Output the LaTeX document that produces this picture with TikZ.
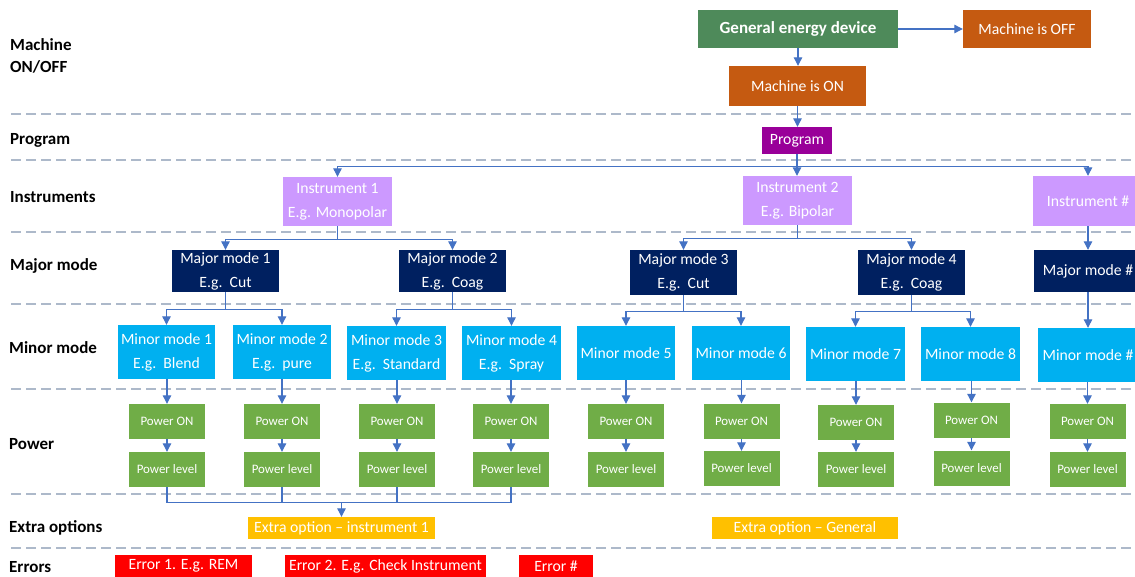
\documentclass[tikz,border=0pt]{standalone}
\usepackage{fontspec}
\setmainfont{Carlito}
\usetikzlibrary{arrows.meta}

\definecolor{sepline}{HTML}{ADB9CA}
\definecolor{conn}{HTML}{4472C4}
\definecolor{devgreen}{HTML}{4E8A5A}
\definecolor{machorange}{HTML}{C55A11}
\definecolor{progpurple}{HTML}{990099}
\definecolor{instlilac}{HTML}{CC99FF}
\definecolor{majornavy}{HTML}{002060}
\definecolor{minorblue}{HTML}{00B0F0}
\definecolor{powergreen}{HTML}{70AD47}
\definecolor{extraamber}{HTML}{FFC000}
\definecolor{errred}{HTML}{FF0000}

\begin{document}
\begin{tikzpicture}[x=1pt,y=-1pt,
  box/.style={rectangle, fill=#1, text=white, inner sep=0pt, align=center,
              font=\fontsize{15.7}{24}\selectfont},
  pwr/.style={box=powergreen, minimum width=76pt, minimum height=35pt,
              font=\fontsize{12.9}{16}\selectfont},
  sz/.style 2 args={minimum width=#1pt, minimum height=#2pt},
  rowlabel/.style={anchor=west, inner sep=0pt, align=left, text=black,
              font=\fontsize{17}{22}\selectfont\bfseries},
  sep/.style={draw=sepline, line width=1.6pt, dash pattern=on 10pt off 5pt},
  wire/.style={draw=conn, line width=1.1pt},
  arr/.style={wire, -{Triangle[length=8.5pt,width=8.5pt]}}]

\fill[white] (0,0) rectangle (1135,576);
\useasboundingbox (0,0) rectangle (1135,576);
\clip (0,0) rectangle (1135,576);

% lane separators
\foreach \yy in {114,160,232,304,389,494,548}
  \draw[sep] (11,\yy) -- (1135,\yy);

% lane titles
\node[rowlabel] (lMachine) at (10,56)  {Machine\\ON/OFF};
\node[rowlabel] (lProgram) at (10,140) {Program};
\node[rowlabel] (lInstr)   at (10,197) {Instruments};
\node[rowlabel] (lMajor)   at (10,266) {Major mode};
\node[rowlabel] (lMinor)   at (9,348)  {Minor mode};
\node[rowlabel] (lPower)   at (9,444)  {Power};
\node[rowlabel] (lExtra)   at (9,528)  {Extra options};
\node[rowlabel] (lErrors)  at (9,567)  {Errors};

% device and program
\node[box=devgreen, sz={200}{38}, font=\fontsize{17}{22}\selectfont\bfseries] (ged) at (798,29) {General energy device};
\node[box=machorange, sz={128}{38}] (off) at (1027,29) {Machine is OFF};
\node[box=machorange, sz={137}{40}] (on) at (797.5,86) {Machine is ON};
\node[box=progpurple, sz={70}{27}] (prog) at (797,140.5) {Program};

% instruments
\node[box=instlilac, sz={109}{49}] (inst1) at (337.5,201.5) {Instrument 1\\E.g. Monopolar};
\node[box=instlilac, sz={109}{49}] (inst2) at (797.5,200.5) {Instrument 2\\E.g. Bipolar};
\node[box=instlilac, sz={110}{50}] (instN) at (1088,201) {Instrument \#};

% major modes
\node[box=majornavy, sz={107}{42}] (mm1) at (225.5,271) {Major mode 1\\E.g.\ \ Cut};
\node[box=majornavy, sz={107}{42}] (mm2) at (452.5,271) {Major mode 2\\E.g.\ \ Coag};
\node[box=majornavy, sz={107}{45}] (mm3) at (683.5,272.5) {Major mode 3\\E.g.\ \ Cut};
\node[box=majornavy, sz={107}{45}] (mm4) at (911.5,272.5) {Major mode 4\\E.g.\ \ Coag};
\node[box=majornavy, sz={108}{42}] (mmN) at (1088,271) {Major mode \#};

% minor modes
\node[box=minorblue, sz={97}{54}] (mi1) at (166.5,352) {Minor mode 1\\E.g.\ \ Blend};
\node[box=minorblue, sz={98}{54}] (mi2) at (282,352) {Minor mode 2\\E.g.\ \ pure};
\node[box=minorblue, sz={99}{54}] (mi3) at (396.5,353) {Minor mode 3\\E.g.\ \ Standard};
\node[box=minorblue, sz={99}{54}] (mi4) at (511.5,353) {Minor mode 4\\E.g.\ \ Spray};
\node[box=minorblue, sz={98}{54}] (mi5) at (626,353) {Minor mode 5};
\node[box=minorblue, sz={98}{54}] (mi6) at (741,353) {Minor mode 6};
\node[box=minorblue, sz={99}{54}] (mi7) at (855.5,354) {Minor mode 7};
\node[box=minorblue, sz={99}{54}] (mi8) at (970.5,354) {Minor mode 8};
\node[box=minorblue, sz={100}{54}] (miN) at (1088,355) {Minor mode \#};

% power on / power level
\node[pwr] (po1) at (167,421.5) {Power ON};
\node[pwr] (pl1) at (167,469.5) {Power level};
\node[pwr] (po2) at (282,421.5) {Power ON};
\node[pwr] (pl2) at (282,469.5) {Power level};
\node[pwr] (po3) at (397,421.5) {Power ON};
\node[pwr] (pl3) at (397,469.5) {Power level};
\node[pwr] (po4) at (511,421.5) {Power ON};
\node[pwr] (pl4) at (511,469.5) {Power level};
\node[pwr] (po5) at (626,421.5) {Power ON};
\node[pwr] (pl5) at (626,469.5) {Power level};
\node[pwr] (po6) at (741.5,421) {Power ON};
\node[pwr] (pl6) at (741.5,468.5) {Power level};
\node[pwr] (po7) at (856,422.5) {Power ON};
\node[pwr] (pl7) at (856,469.5) {Power level};
\node[pwr] (po8) at (971.5,420) {Power ON};
\node[pwr] (pl8) at (971.5,468) {Power level};
\node[pwr] (poN) at (1087.5,421.5) {Power ON};
\node[pwr] (plN) at (1087.5,469.5) {Power level};

% extra options
\node[box=extraamber, sz={187}{22}] (ex1) at (341.5,528) {Extra option -- instrument 1};
\node[box=extraamber, sz={186}{22}] (exG) at (805,528) {Extra option -- General};

% errors
\node[box=errred, sz={137}{22}] (err1) at (183.5,566) {Error 1. E.g. REM};
\node[box=errred, sz={201}{22}] (err2) at (385.5,566) {Error 2. E.g. Check Instrument};
\node[box=errred, sz={74}{22}] (errN) at (556,566) {Error \#};

% device flow
\draw[arr] (ged.east) -- (ged.east -| off.west);
\draw[arr] (ged.south) -- (ged.south |- on.north);
\draw[arr] (on.south) -- (on.south |- prog.north);

% program to instruments
\draw[wire] (prog.south) -- ++(0,12) coordinate (pbus);
\draw[arr] (pbus) -| (inst1.north);
\draw[arr] (pbus) -| (instN.north);
\draw[arr] (pbus) -- (pbus |- inst2.north);

% instruments to major modes
\draw[wire] (inst1.south) -- ++(0,13) coordinate (i1bus);
\draw[arr] (i1bus) -| (mm1.north);
\draw[arr] (i1bus) -| (mm2.north);
\draw[wire] (inst2.south) -- ++(0,13) coordinate (i2bus);
\draw[arr] (i2bus) -| (mm3.north);
\draw[arr] (i2bus) -| (mm4.north);
\draw[arr] (instN.south) -- (instN.south |- mmN.north);

% major modes to minor modes
\draw[wire] (mm1.south) -- ++(0,17) coordinate (m1bus);
\draw[arr] (m1bus) -| (mi1.north);
\draw[arr] (m1bus) -| (mi2.north);
\draw[wire] (mm2.south) -- ++(0,17) coordinate (m2bus);
\draw[arr] (m2bus) -| (mi3.north);
\draw[arr] (m2bus) -| (mi4.north);
\draw[wire] (mm3.south) -- ++(0,16) coordinate (m3bus);
\draw[arr] (m3bus) -| (mi5.north);
\draw[arr] (m3bus) -| (mi6.north);
\draw[wire] (mm4.south) -- ++(0,16) coordinate (m4bus);
\draw[arr] (m4bus) -| (mi7.north);
\draw[arr] (m4bus) -| (mi8.north);
\draw[arr] (mmN.south) -- (mmN.south |- miN.north);

% minor modes to power on, power on to power level
\foreach \k in {1,2,3,4,5,6,7,8,N}{
  \draw[arr] (po\k.north |- mi\k.south) -- (po\k.north);
  \draw[arr] (po\k.south) -- (po\k.south |- pl\k.north);
}

% power levels of instrument 1 merge into its extra option
\path (ex1.north) ++(0,-14) coordinate (ebus);
\draw[wire] (pl1.south) |- (ebus);
\draw[wire] (pl4.south) |- (ebus);
\draw[wire] (pl2.south) -- (pl2.south |- ebus);
\draw[wire] (pl3.south) -- (pl3.south |- ebus);
\draw[arr] (ebus) -- (ex1.north);

\end{tikzpicture}
\end{document}
